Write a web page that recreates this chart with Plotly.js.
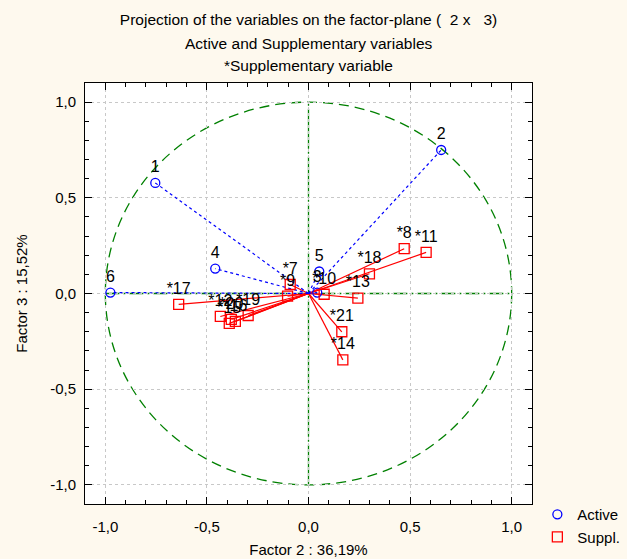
<!DOCTYPE html>
<html>
<head>
<meta charset="utf-8">
<script src="https://cdn.plot.ly/plotly-3.0.1.min.js"></script>
<style>
html,body{margin:0;padding:0;background:#fef9ee;}
#chart{width:627px;height:559px;}
</style>
</head>
<body>
<div id="chart"></div>
<script>
// Active variables
const activeLabels = ['1','2','3','4','5','6'];
const activeX = [-0.754, 0.653, 0.043, -0.459, 0.053, -0.975];
const activeY = [0.578, 0.750, 0.005, 0.130, 0.115, 0.005];

// Supplementary variables
const supplLabels = ['*7','*8','*9','*10','*11','*12','*13','*14','*15','*16','*17','*18','*19','*20','*21'];
const supplX = [-0.090, 0.471, -0.103, 0.077, 0.579, -0.434, 0.243, 0.169, -0.390, -0.360, -0.639, 0.300, -0.297, -0.380, 0.164];
const supplY = [0.047, 0.234, -0.014, -0.004, 0.215, -0.120, -0.024, -0.347, -0.156, -0.146, -0.057, 0.103, -0.115, -0.135, -0.200];

const tickVals = [-1, -0.5, 0, 0.5, 1];
const tickText = ['-1,0', '-0,5', '0,0', '0,5', '1,0'];

const titleLines = [
  'Projection of the variables on the factor-plane (  2 x   3)',
  'Active and Supplementary variables',
  '*Supplementary variable'
];

function rays(xs, ys) {
  const lx = [], ly = [];
  for (let i = 0; i < xs.length; i++) {
    lx.push(0, xs[i], null);
    ly.push(0, ys[i], null);
  }
  return {lx, ly};
}
const ar = rays(activeX, activeY);
const sr = rays(supplX, supplY);

const FONT = 'Liberation Sans, Arial, sans-serif';

const traces = [
  {x: sr.lx, y: sr.ly, mode: 'lines', line: {color: '#ff0000', width: 1.2}, showlegend: false, hoverinfo: 'skip'},
  {x: ar.lx, y: ar.ly, mode: 'lines', line: {color: '#0000ff', width: 1.2, dash: 'dot'}, showlegend: false, hoverinfo: 'skip'},
  {x: activeX, y: activeY, mode: 'markers', name: 'Active',
   marker: {symbol: 'circle-open', size: 9, color: '#0000ff', line: {width: 1.3}}},
  {x: supplX, y: supplY, mode: 'markers', name: 'Suppl.',
   marker: {symbol: 'square-open', size: 10, color: '#ff0000', line: {width: 1.3}}},
  {x: activeX, y: activeY, mode: 'markers+text', text: activeLabels, textposition: 'top center',
   marker: {size: 9, opacity: 0},
   textfont: {family: FONT, size: 16, color: '#000'}, showlegend: false, hoverinfo: 'skip'},
  {x: supplX, y: supplY, mode: 'markers+text', text: supplLabels, textposition: 'top center',
   marker: {size: 9, opacity: 0},
   textfont: {family: FONT, size: 16, color: '#000'}, showlegend: false, hoverinfo: 'skip'}
];

const axisCommon = {
  range: [-1.1, 1.1],
  tickvals: tickVals,
  ticktext: tickText,
  ticks: 'inside',
  ticklen: 7,
  tickcolor: '#000',
  showline: true,
  linecolor: '#000',
  linewidth: 1,
  mirror: 'allticks',
  showgrid: true,
  gridcolor: '#c8c8c8',
  griddash: 'dot',
  gridwidth: 1,
  zeroline: false,
  tickfont: {family: FONT, size: 15, color: '#000'},
  minor: {dtick: 0.1, tick0: 0, ticks: 'inside', ticklen: 4, tickcolor: '#000', showgrid: false},
  automargin: false,
  fixedrange: true
};

const layout = {
  width: 627, height: 559,
  paper_bgcolor: '#fef9ee',
  plot_bgcolor: '#ffffff',
  margin: {l: 85, r: 95, t: 83, b: 55, autoexpand: false},
  font: {family: FONT, size: 14, color: '#000'},
  title: {
    text: titleLines[0],
    font: {family: FONT, size: 15.5, color: '#000'},
    xref: 'paper', x: 0.5, xanchor: 'center',
    yref: 'container', y: 1 - 20 / 559, yanchor: 'middle'
  },
  annotations: [
    {text: titleLines[1], xref: 'paper', yref: 'paper', x: 0.5, y: (504 - 44) / 421,
     xanchor: 'center', yanchor: 'middle', showarrow: false, font: {family: FONT, size: 15.5, color: '#000'}},
    {text: titleLines[2], xref: 'paper', yref: 'paper', x: 0.5, y: (504 - 65) / 421,
     xanchor: 'center', yanchor: 'middle', showarrow: false, font: {family: FONT, size: 15.5, color: '#000'}}
  ],
  xaxis: Object.assign({}, axisCommon, {
    ticklabelstandoff: 9,
    title: {text: 'Factor 2 : 36,19%', font: {family: FONT, size: 15, color: '#000'}, standoff: 10}
  }),
  yaxis: Object.assign({}, axisCommon, {
    ticklabelstandoff: 5,
    title: {text: 'Factor 3 : 15,52%', font: {family: FONT, size: 15, color: '#000'}, standoff: 18}
  }),
  shapes: [
    {type: 'circle', xref: 'x', yref: 'y', x0: -1, y0: -1, x1: 1, y1: 1, layer: 'below',
     line: {color: '#008000', width: 1.3, dash: '10px,6px'}},
    {type: 'line', xref: 'x', yref: 'y', x0: 0, y0: -1, x1: 0, y1: 1, layer: 'below',
     line: {color: '#008000', width: 1.3, dash: '40px,3px,2px,3px'}},
    {type: 'line', xref: 'x', yref: 'y', x0: -1, y0: 0, x1: 1, y1: 0, layer: 'below',
     line: {color: '#008000', width: 1.3, dash: '14px,4px,2px,4px'}}
  ],
  legend: {
    x: 1.012, xanchor: 'left', y: 0.014, yanchor: 'top',
    bgcolor: 'rgba(0,0,0,0)',
    font: {family: FONT, size: 15, color: '#000'},
    itemwidth: 30, tracegroupgap: 0
  },
  showlegend: true
};

Plotly.newPlot('chart', traces, layout, {displayModeBar: false, staticPlot: true});
</script>
</body>
</html>
